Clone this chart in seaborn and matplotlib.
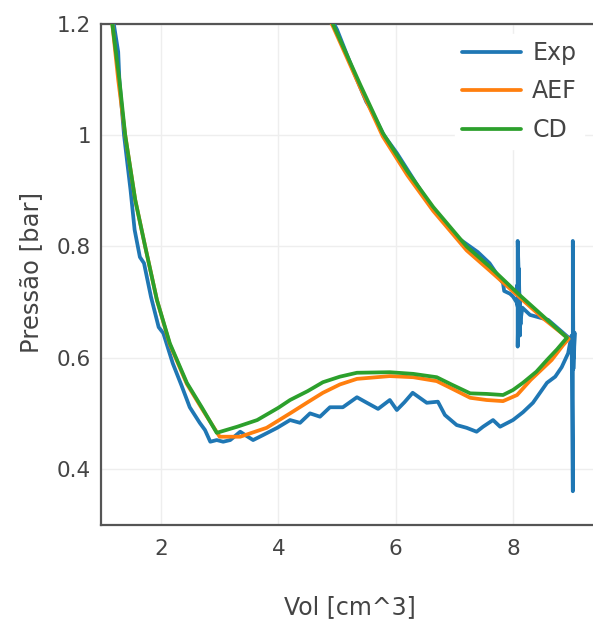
import matplotlib
matplotlib.use("Agg")
import matplotlib.pyplot as plt
import seaborn as sns
import pandas as pd

# ---------------- data ----------------
series_names = ["Exp", "AEF", "CD"]
x_ticks = [2, 4, 6, 8]
y_ticks = [0.4, 0.6, 0.8, 1.0, 1.2]
y_tick_labels = ["0.4", "0.6", "0.8", "1", "1.2"]

vol_exp = [1.12, 1.18, 1.24, 1.27, 1.29, 1.33, 1.37, 1.42, 1.48, 1.55, 1.64, 1.71, 1.83, 1.96,
           2.04, 2.2, 2.35, 2.49, 2.66, 2.75, 2.84, 2.95, 3.06, 3.18, 3.35, 3.45, 3.57, 3.74,
           3.98, 4.2, 4.37, 4.54, 4.71, 4.88, 5.1, 5.34, 5.51, 5.7, 5.9, 6.02, 6.15, 6.29,
           6.53, 6.72, 6.84, 7.04, 7.21, 7.38, 7.49, 7.66, 7.78, 8.0, 8.17, 8.34, 8.46, 8.58,
           8.72, 8.83, 8.94, 8.97, 9.0, 9.02, 9.02, 9.03, 9.05, 9.04, 9.0, 8.95,
           8.6, 8.29, 8.16, 8.12, 8.10, 8.08, 8.08, 8.10, 8.12, 8.09, 8.13, 8.07, 8.11, 8.06,
           8.0, 7.95, 7.85, 7.83, 7.6, 7.4, 7.04, 6.6, 6.02, 5.8, 5.56, 5.5, 5.3, 5.0, 4.95, 4.6]
p_exp = [1.32, 1.21, 1.17, 1.15, 1.10, 1.05, 1.0, 0.955, 0.902, 0.83, 0.781, 0.77, 0.709, 0.655,
         0.644, 0.59, 0.55, 0.511, 0.483, 0.47, 0.449, 0.452, 0.449, 0.452, 0.467, 0.46, 0.452, 0.461,
         0.474, 0.488, 0.483, 0.5, 0.494, 0.511, 0.511, 0.529, 0.519, 0.508, 0.524, 0.506, 0.52, 0.537,
         0.519, 0.521, 0.497, 0.479, 0.474, 0.467, 0.476, 0.488, 0.476, 0.488, 0.502, 0.519, 0.537, 0.555,
         0.566, 0.583, 0.608, 0.625, 0.64, 0.36, 0.81, 0.58, 0.645, 0.60, 0.635, 0.636,
         0.668, 0.677, 0.69, 0.66, 0.74, 0.81, 0.62, 0.76, 0.64, 0.75, 0.66, 0.73, 0.68, 0.70,
         0.71, 0.715, 0.72, 0.734, 0.77, 0.79, 0.817, 0.872, 0.968, 1.0, 1.05, 1.06, 1.11, 1.19, 1.2, 1.27]

vol_aef = [1.10, 1.16, 1.27, 1.39, 1.56, 1.73, 1.93, 2.15, 2.44, 2.70, 3.0, 3.35, 3.8, 4.2,
           4.5, 4.76, 5.05, 5.34, 5.9, 6.3, 6.7, 6.95, 7.27, 7.55, 7.83, 8.07, 8.3, 8.5,
           8.66, 8.85, 8.95, 8.5, 8.12, 7.61, 7.21, 6.64, 6.2, 5.78, 5.4, 4.93, 4.6]
p_aef = [1.32, 1.21, 1.10, 1.0, 0.884, 0.80, 0.704, 0.624, 0.553, 0.508, 0.458, 0.458, 0.474, 0.50,
         0.52, 0.537, 0.552, 0.562, 0.567, 0.565, 0.558, 0.545, 0.528, 0.524, 0.522, 0.533, 0.56, 0.58,
         0.596, 0.622, 0.634, 0.672, 0.708, 0.756, 0.793, 0.864, 0.928, 0.998, 1.085, 1.196, 1.265]

vol_cd = [1.10, 1.16, 1.29, 1.39, 1.56, 1.73, 1.93, 2.15, 2.44, 2.70, 2.95, 3.3, 3.64, 4.0,
          4.2, 4.5, 4.76, 5.05, 5.34, 5.9, 6.3, 6.7, 6.95, 7.27, 7.55, 7.83, 8.0, 8.17,
          8.4, 8.58, 8.75, 8.92, 8.5, 8.12, 7.61, 7.21, 6.64, 6.2, 5.78, 5.4, 4.93, 4.6]
p_cd = [1.32, 1.208, 1.10, 1.0, 0.884, 0.80, 0.704, 0.626, 0.555, 0.51, 0.465, 0.476, 0.488, 0.51,
        0.524, 0.54, 0.556, 0.566, 0.573, 0.574, 0.571, 0.565, 0.552, 0.536, 0.535, 0.533, 0.542, 0.555,
        0.575, 0.596, 0.615, 0.636, 0.676, 0.712, 0.763, 0.80, 0.871, 0.935, 1.004, 1.09, 1.2, 1.27]

colors = ["#1f77b4", "#ff7f0e", "#2ca02c"]

# ---------------- figure ----------------
sns.set_theme(style="white")
plt.rcParams["font.family"] = ["DejaVu Sans"]

W, H = 593, 625
fig = plt.figure(figsize=(W / 100, H / 100), dpi=100)
left, right, bottom, top = 101, 593, 525, 24
ax = fig.add_axes([left / W, (H - bottom) / H, (right - left) / W, (bottom - top) / H])

frames = []
for name, v, p in zip(series_names, [vol_exp, vol_aef, vol_cd], [p_exp, p_aef, p_cd]):
    df = pd.DataFrame({"vol": v, "p": p})
    df["serie"] = name
    frames.append(df)
data = pd.concat(frames, ignore_index=True)

for name, c in zip(series_names, colors):
    sub = data[data["serie"] == name]
    sns.lineplot(data=sub, x="vol", y="p", sort=False, estimator=None, ax=ax,
                 color=c, linewidth=2.7, label=name, zorder=3)

ax.set_xlim(0.977, 9.364)
ax.set_ylim(0.2993, 1.2)
ax.set_xticks(x_ticks)
ax.set_xticklabels([str(t) for t in x_ticks])
ax.set_yticks(y_ticks)
ax.set_yticklabels(y_tick_labels)
ax.grid(True, color="#eeeeee", linewidth=1.0, zorder=0)
ax.set_axisbelow(True)

for s in ["left", "bottom", "top"]:
    ax.spines[s].set_visible(True)
    ax.spines[s].set_color("#555555")
    ax.spines[s].set_linewidth(1.6)
ax.spines["right"].set_visible(False)

ax.tick_params(axis="both", length=0, labelsize=15.5, labelcolor="#444444")
ax.tick_params(axis="x", pad=10)
ax.tick_params(axis="y", pad=7)

ax.set_xlabel("")
ax.set_ylabel("")
fig.text(350 / W, 1 - 607 / H, "Vol [cm^3]", ha="center", va="center",
         fontsize=17, color="#444444")
fig.text(31 / W, 1 - 272 / H, "Pressão [bar]", ha="center", va="center",
         rotation=90, fontsize=17.5, color="#444444")

leg = ax.legend(loc="upper left", bbox_to_anchor=(455 / W, 1 - 34 / H),
                bbox_transform=fig.transFigure, frameon=True, fancybox=False,
                fontsize=17, handlelength=2.5, handletextpad=0.47,
                labelspacing=0.61, borderpad=0.3, borderaxespad=0)
leg.get_frame().set_facecolor("white")
leg.get_frame().set_edgecolor("white")
leg.get_frame().set_alpha(1.0)
for t in leg.get_texts():
    t.set_color("#444444")

fig.savefig("out.png", dpi=100)
